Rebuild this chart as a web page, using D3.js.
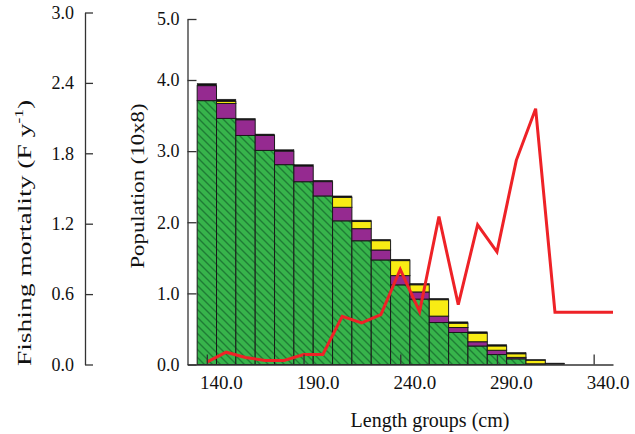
<!DOCTYPE html>
<html>
<head>
<meta charset="utf-8">
<script src="https://cdn.jsdelivr.net/npm/d3@7"></script>
<style>
  html, body { margin: 0; padding: 0; background: #fff; }
  svg { display: block; }
  text { font-family: "Liberation Serif", "Times New Roman", serif; fill: #111; }
</style>
</head>
<body>
<svg id="chart" width="635" height="434"></svg>
<script>
// ---------------- data ----------------
const lengthGroups = [140,150,160,170,180,190,200,210,220,230,240,250,260,270,280,290,300,310,320];
const greenVals  = [3.71,3.46,3.22,3.01,2.81,2.57,2.37,2.02,1.74,1.47,1.12,0.92,0.59,0.45,0.26,0.14,0.08,0.01,0.00];
const purpleVals = [0.21,0.21,0.22,0.21,0.19,0.22,0.20,0.19,0.17,0.14,0.13,0.10,0.09,0.07,0.06,0.06,0.02,0.00,0.00];
const yellowVals = [0.00,0.03,0.00,0.00,0.00,0.00,0.00,0.14,0.10,0.13,0.21,0.10,0.23,0.06,0.12,0.06,0.05,0.05,0.00];
const blackVals  = [0.03,0.03,0.02,0.02,0.02,0.02,0.02,0.02,0.02,0.02,0.02,0.02,0.02,0.02,0.02,0.02,0.02,0.01,0.02];

const fLengths = [140,150,160,170,180,190,200,210,220,230,240,250,260,270,280,290,300,310,320,330,340,350];
const fVals    = [0.02,0.105,0.06,0.035,0.035,0.085,0.085,0.41,0.355,0.425,0.81,0.45,1.26,0.51,1.19,0.96,1.74,2.18,0.445,0.445,0.445,0.445];

const xTicks = [140,190,240,290,340];
const popTicks = [0,1,2,3,4,5];
const fTicks = [0,0.6,1.2,1.8,2.4,3.0];

// ---------------- scales ----------------
const svg = d3.select("#chart");
const x = d3.scaleLinear().domain([130,350]).range([187.5,613]);
const yPop = d3.scaleLinear().domain([0,4,5]).range([364.5,80,19]);
const yF = d3.scaleLinear().domain([0,3]).range([364.5,12.5]);
const barW = x(10) - x(0);

// hatch pattern
const defs = svg.append("defs");
const pat = defs.append("pattern").attr("id","hatch").attr("patternUnits","userSpaceOnUse")
  .attr("width",8).attr("height",8);
pat.append("rect").attr("width",8).attr("height",8).attr("fill","#37b44b");
pat.append("path").attr("d","M0,0 L8,8 M-2,6 L2,10 M6,-2 L10,2")
  .attr("stroke","#1f7d35").attr("stroke-width",1.4);

// ---------------- stacked bars ----------------
const rows = lengthGroups.map((g,i)=>({g, green:greenVals[i], purple:purpleVals[i], yellow:yellowVals[i], black:blackVals[i]}));
const keys = ["green","purple","yellow","black"];
const fills = {green:"url(#hatch)", purple:"#952a90", yellow:"#f8ec14", black:"#111"};
const stack = d3.stack().keys(keys)(rows);

const gBars = svg.append("g");
stack.forEach(layer=>{
  gBars.selectAll(null).data(layer.filter(d=> d[1]-d[0] > 0)).enter().append("rect")
    .attr("x", d=> x(d.data.g) - barW/2)
    .attr("width", barW)
    .attr("y", d=> yPop(d[1]))
    .attr("height", d=> yPop(d[0]) - yPop(d[1]))
    .attr("fill", fills[layer.key])
    .attr("stroke", "#1a1a1a")
    .attr("stroke-width", layer.key==="black" ? 0.5 : 1);
});

// ---------------- F line ----------------
const line = d3.line().x((d,i)=> x(fLengths[i])).y(d=> yF(d));
svg.append("path").datum(fVals).attr("d", line)
  .attr("fill","none").attr("stroke","#ee2227").attr("stroke-width",3)
  .attr("stroke-linejoin","miter");

// ---------------- axes ----------------
function styleAxis(g){
  g.selectAll("path.domain").attr("stroke","#333").attr("stroke-width",1.3);
  g.selectAll(".tick line").attr("stroke","#333").attr("stroke-width",1.3);
  g.selectAll("text").attr("font-family","Liberation Serif, Times New Roman, serif").attr("fill","#111");
}

const axF = svg.append("g").attr("transform","translate(85,0)")
  .call(d3.axisLeft(yF).tickValues(fTicks).tickFormat(d3.format(".1f"))
        .tickSizeInner(-8).tickSizeOuter(0).tickPadding(11));
styleAxis(axF);
axF.selectAll("text").attr("font-size",18);

const axP = svg.append("g").attr("transform","translate(187.5,0)")
  .call(d3.axisLeft(yPop).tickValues(popTicks).tickFormat(d3.format(".1f"))
        .tickSizeInner(-9).tickSizeOuter(0).tickPadding(8));
styleAxis(axP);
axP.selectAll("text").attr("font-size",18);

const axX = svg.append("g").attr("transform","translate(0,364.5)")
  .call(d3.axisBottom(x).tickValues(xTicks).tickFormat(d3.format(".1f"))
        .tickSizeInner(-10).tickSizeOuter(0).tickPadding(11));
styleAxis(axX);
axX.selectAll("text").attr("font-size",19).attr("dx",14);

// ---------------- titles ----------------
svg.append("text").attr("x",430).attr("y",427).attr("text-anchor","middle")
  .attr("font-size",20).text("Length groups (cm)");

const tF = svg.append("text").attr("transform","translate(31,233) rotate(-90) scale(1.45,1)")
  .attr("text-anchor","middle").attr("font-size",19);
tF.append("tspan").text("Fishing mortality (F y");
tF.append("tspan").attr("font-size",12).attr("dy",-8).text("-1");
tF.append("tspan").attr("dy",8).text(")");

svg.append("text").attr("transform","translate(144,186) rotate(-90) scale(1.2,1)")
  .attr("text-anchor","middle").attr("font-size",19).text("Population (10x8)");
</script>
</body>
</html>
